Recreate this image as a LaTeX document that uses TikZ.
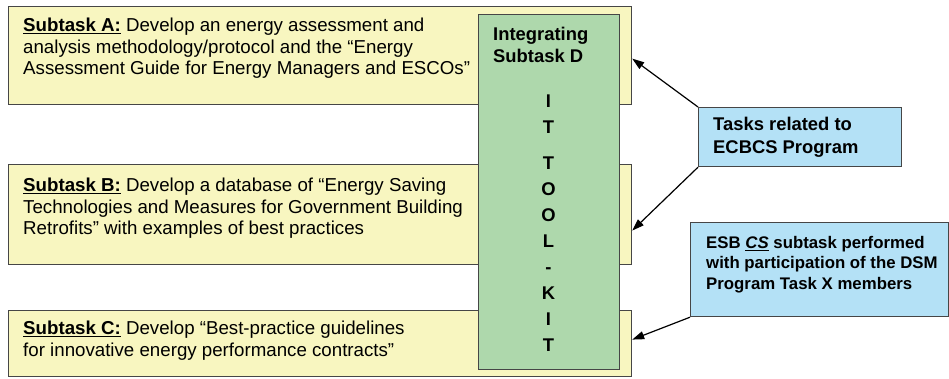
\documentclass[tikz,border=0pt]{standalone}
\usepackage{fontspec}
\setmainfont{Liberation Sans}
\usepackage{tikz}
\usetikzlibrary{arrows.meta, shapes, backgrounds}

\definecolor{taskyellow}{RGB}{248,246,192}
\definecolor{kitgreen}{RGB}{174,216,172}
\definecolor{notesblue}{RGB}{180,225,246}
\definecolor{boxline}{RGB}{70,70,70}

\begin{document}
\begin{tikzpicture}[x=1pt, y=-1pt, background rectangle/.style={fill=white}, show background rectangle, inner frame sep=0pt]
\useasboundingbox (0,0) rectangle (949,378);

\begin{scope}[every node/.style={rectangle, draw=boxline, line width=1.2pt, inner sep=0pt, anchor=north west}]
  \node[fill=taskyellow, minimum width=623pt, minimum height=98pt] (A) at (8,6) {};
    \node[fill=taskyellow, minimum width=623pt, minimum height=100pt] (B) at (8,164) {};
    \node[fill=taskyellow, minimum width=623pt, minimum height=66pt] (C) at (8,310) {};
    \node[fill=kitgreen, minimum width=141pt, minimum height=355pt] (D) at (478,14) {};
    \node[fill=notesblue, minimum width=203pt, minimum height=59pt] (ecbcs) at (698,107) {};
    \node[fill=notesblue, minimum width=258pt, minimum height=94pt] (dsm) at (690,222) {};
\end{scope}

\begin{scope}[every node/.style={anchor=north west, inner sep=0pt, align=left}]
  \node[font=\fontsize{18.7}{21.5}\selectfont] (Atext) at ([shift={(15,12)}]A.north west)
    {\textbf{\underline{Subtask A:}} Develop an energy assessment and\\
     analysis methodology/protocol and the “Energy\\
     Assessment Guide for Energy Managers and ESCOs”};
    \node[font=\fontsize{18.7}{21.5}\selectfont] (Btext) at ([shift={(15,14)}]B.north west)
    {\textbf{\underline{Subtask B:}} Develop a database of “Energy Saving\\
     Technologies and Measures for Government Building\\
     Retrofits” with examples of best practices};
    \node[font=\fontsize{18.7}{21.5}\selectfont] (Ctext) at ([shift={(15,11)}]C.north west)
    {\textbf{\underline{Subtask C:}} Develop “Best-practice guidelines\\
     for innovative energy performance contracts”};
    \node[font=\fontsize{18.4}{22}\selectfont\bfseries] (Dtext) at ([shift={(15,13)}]D.north west)
    {Integrating\\ Subtask D};
    \node[font=\fontsize{18.4}{23}\selectfont\bfseries] (ecbcstext) at ([shift={(15,10)}]ecbcs.north west)
    {Tasks related to\\ ECBCS Program};
    \node[font=\fontsize{16.8}{20.5}\selectfont\bfseries] (dsmtext) at ([shift={(16,14)}]dsm.north west)
    {ESB \underline{\textit{CS}} subtask performed\\
     with participation of the DSM\\
     Program Task X members};
    \node[font=\fontsize{18.4}{26}\selectfont\bfseries, align=center, anchor=north] (kit) at (548.5,95)
    {I\\T\\[10pt]T\\O\\O\\L\\-\\K\\I\\T};
\end{scope}

\begin{scope}[>={Stealth[black, length=12pt, width=8pt, inset=0pt]},
              every edge/.style={draw=black, line width=1.2pt}]
    \path[->] (ecbcs.north west) edge ([yshift=-3pt]A.east);
    \path[->] (ecbcs.south west) edge ([yshift=-16pt]B.east);
    \path[->] (dsm.south west) edge ([yshift=4pt]C.east);
\end{scope}

\end{tikzpicture}
\end{document}
